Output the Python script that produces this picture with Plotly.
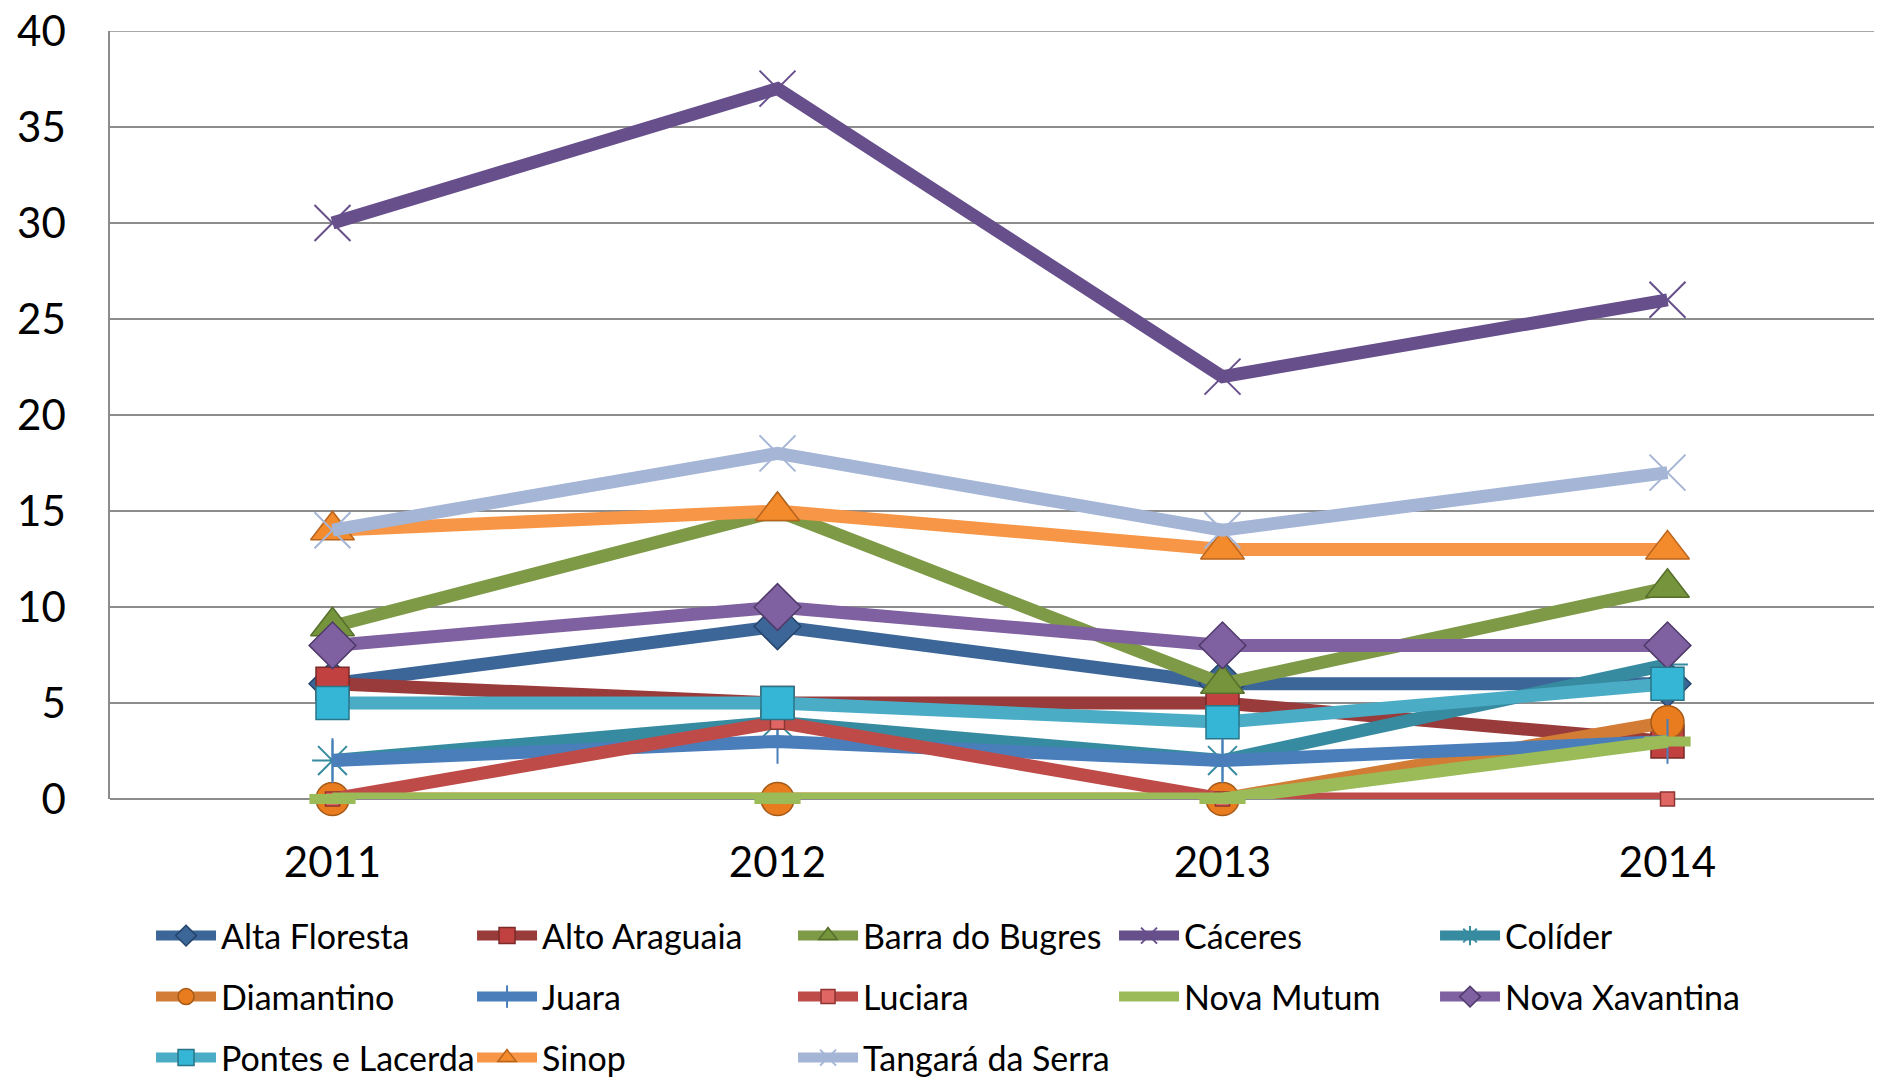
import plotly.graph_objects as go

years = ["2011", "2012", "2013", "2014"]

alta_floresta = [6, 9, 6, 6]
alto_araguaia = [6, 5, 5, 3]
barra_do_bugres = [9, 15, 6, 11]
caceres = [30, 37, 22, 26]
colider = [2, 4, 2, 7]
diamantino = [0, 0, 0, 4]
juara = [2, 3, 2, 3]
luciara = [0, 4, 0, 0]
nova_mutum = [0, 0, 0, 3]
nova_xavantina = [8, 10, 8, 8]
pontes_e_lacerda = [5, 5, 4, 6]
sinop = [14, 15, 13, 13]
tangara_da_serra = [14, 18, 14, 17]

# name, values, line colour, marker symbol, marker size, marker fill, marker outline, outline width, legend row
series = [
    ("Alta Floresta", alta_floresta, "#3C6698", "diamond", 36, "#3C6698", "#24446C", 1.5, "legend"),
    ("Alto Araguaia", alto_araguaia, "#993B3A", "square", 33, "#C0413F", "#7A2A29", 1.5, "legend"),
    ("Barra do Bugres", barra_do_bugres, "#7E9A47", "triangle-up", 38, "#76943C", "#566F2B", 1.5, "legend"),
    ("Cáceres", caceres, "#664F8B", "x-thin", 36, "#664F8B", "#664F8B", 2, "legend"),
    ("Colíder", colider, "#378BA0", "asterisk", 34, "#378BA0", "#378BA0", 2, "legend"),
    ("Diamantino", diamantino, "#D27C35", "circle", 33, "#E87C1E", "#A55A18", 1.5, "legend2"),
    ("Juara", juara, "#4A7EBB", "line-ns", 32, "#4A7EBB", "#4A7EBB", 2, "legend2"),
    ("Luciara", luciara, "#BE4B48", "square", 14, "#E06664", "#8C3432", 1.5, "legend2"),
    ("Nova Mutum", nova_mutum, "#9BBB59", "line-ew", 33, "#B5D36A", "#9BBB59", 10, "legend2"),
    ("Nova Xavantina", nova_xavantina, "#7F60A0", "diamond", 36, "#7F60A0", "#4F3A6A", 1.5, "legend2"),
    ("Pontes e Lacerda", pontes_e_lacerda, "#4BACC6", "square", 33, "#35B6D6", "#2A7588", 1.5, "legend3"),
    ("Sinop", sinop, "#F79646", "triangle-up", 38, "#F38A2C", "#B9641C", 1.5, "legend3"),
    ("Tangará da Serra", tangara_da_serra, "#A5B5D6", "x-thin", 36, "#A5B5D6", "#A5B5D6", 2, "legend3"),
]

fig = go.Figure()
for name, vals, color, symbol, size, fill, outline, lw, leg in series:
    fig.add_trace(
        go.Scatter(
            x=years,
            y=vals,
            name=name,
            legend=leg,
            mode="lines+markers",
            cliponaxis=False,
            line=dict(color=color, width=13),
            marker=dict(symbol=symbol, size=size, color=fill, line=dict(color=outline, width=lw)),
        )
    )


def legend_row(y):
    return dict(
        orientation="h",
        xref="container",
        yref="container",
        x=0.076,
        y=y,
        xanchor="left",
        yanchor="middle",
        font=dict(size=34, family="Lato, sans-serif", color="black"),
        entrywidth=246,
        entrywidthmode="pixels",
        itemwidth=60,
        traceorder="normal",
        bgcolor="rgba(0,0,0,0)",
    )


# the page body adds an 8px offset, so the margins are 8px smaller than the reference
fig.update_layout(
    width=1882,
    height=1077,
    paper_bgcolor="white",
    plot_bgcolor="white",
    font=dict(family="Lato, sans-serif", color="black"),
    margin=dict(l=102, r=0, t=23, b=286, autoexpand=False),
    showlegend=True,
    legend=legend_row(1 - 928 / 1077),
    legend2=legend_row(1 - 989 / 1077),
    legend3=legend_row(1 - 1050 / 1077),
    xaxis=dict(
        type="category",
        range=[-0.5, 3.5],
        showgrid=False,
        showline=False,
        zeroline=False,
        automargin=False,
        tickfont=dict(size=42),
        ticklabelstandoff=35,
    ),
    yaxis=dict(
        range=[0, 40],
        dtick=5,
        showgrid=True,
        gridcolor="#8C8C8C",
        gridwidth=1.5,
        showline=True,
        mirror=False,
        linecolor="#8C8C8C",
        linewidth=1.5,
        zeroline=True,
        zerolinecolor="#8C8C8C",
        zerolinewidth=1.5,
        automargin=False,
        ticklabeloverflow="allow",
        tickfont=dict(size=42),
        ticklabelstandoff=34,
    ),
)
# top border of the plot area, matching the 40 gridline
fig.add_hline(y=40, line=dict(color="#8C8C8C", width=1.5), layer="below")

fig.write_html("out.html")
